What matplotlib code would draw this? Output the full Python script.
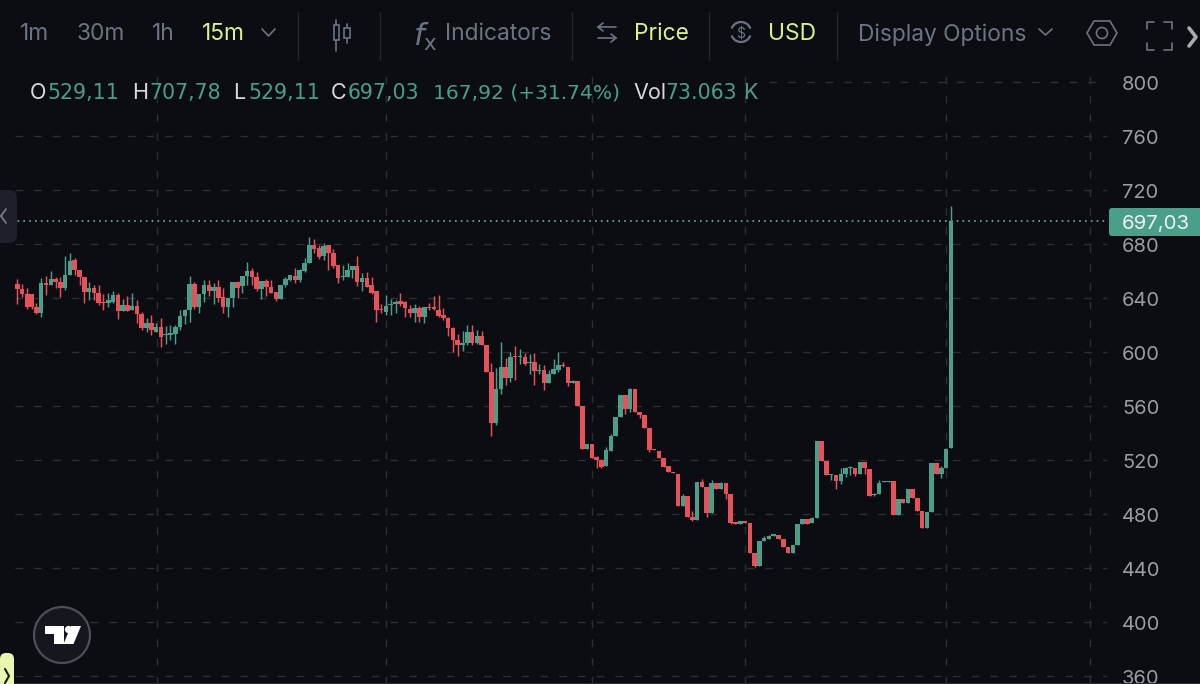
import matplotlib
matplotlib.use("Agg")
import matplotlib.pyplot as plt
from matplotlib.patches import Circle, FancyBboxPatch, Polygon, Rectangle, Arc
from matplotlib.transforms import ScaledTranslation

opens = [650.1,646.7,643.0,643.0,633.6,629.2,650.9,649.4,653.9,651.9,647.2,656.8,668.2,660.8,655.8,644.7,647.2,643.5,636.6,636.1,
637.3,642.2,630.1,634.8,631.1,634.1,628.2,617.6,621.8,615.1,618.3,612.6,612.9,613.4,618.8,626.9,631.1,650.4,633.1,643.0,
649.7,645.5,648.4,640.5,633.1,639.8,652.1,649.2,656.3,660.0,655.3,646.4,652.9,648.4,644.7,639.0,649.7,653.4,656.3,653.3,
660.2,666.2,679.3,676.8,671.1,679.3,673.1,664.4,655.3,655.8,660.7,663.9,652.1,654.6,649.6,645.2,631.6,629.4,634.6,635.5,
637.5,637.0,631.6,629.1,632.3,626.2,633.6,633.1,631.1,627.4,625.0,617.5,608.9,605.4,606.4,614.8,606.4,611.9,605.4,585.4,
547.2,572.4,588.6,580.5,597.0,596.1,596.6,592.1,592.3,585.9,586.7,577.3,583.7,586.7,590.4,588.6,577.3,578.8,560.3,528.2,
531.9,522.0,520.0,515.6,526.9,538.0,551.6,568.2,557.8,572.4,555.3,553.3,543.5,527.9,526.9,521.2,515.6,511.4,509.6,486.2,
493.3,477.5,475.6,504.0,500.3,481.0,502.7,498.8,503.2,494.8,474.0,472.6,474.6,473.6,451.4,441.5,459.8,461.7,463.9,464.4,
461.2,455.8,451.4,457.0,472.6,476.0,473.1,476.8,534.3,519.2,508.6,508.9,504.7,509.6,513.8,514.3,509.4,518.3,513.3,494.1,
494.6,503.4,503.9,504.2,479.3,491.1,488.4,498.3,492.1,482.5,469.4,481.7,517.5,509.6,514.3,529.11]
highs = [654.1,650.1,647.2,643.0,636.1,654.8,656.3,659.8,655.8,655.3,671.1,673.6,669.4,660.8,655.8,652.1,649.7,649.7,643.0,643.5,
645.5,644.0,639.0,641.5,643.5,638.5,629.9,625.0,627.4,621.3,625.0,619.3,620.0,620.0,631.1,631.6,656.3,652.1,643.0,653.4,
653.4,650.9,653.4,647.2,639.8,652.1,652.9,656.3,666.7,662.2,659.5,652.9,653.9,653.4,644.7,649.7,655.3,656.8,662.5,661.2,
669.4,685.0,683.5,679.3,680.5,679.3,676.1,664.4,664.4,665.7,663.7,671.4,658.3,659.5,655.8,645.2,635.6,642.2,639.0,638.5,
644.0,637.5,634.8,635.6,634.0,633.6,636.5,641.5,642.0,632.3,625.7,618.8,613.3,615.8,620.3,620.3,616.3,615.8,605.4,591.6,
587.9,607.6,595.3,600.2,604.7,602.0,599.5,598.5,599.5,591.1,590.4,586.7,594.6,600.2,592.8,588.6,579.3,578.8,560.3,531.9,
531.9,523.0,520.5,529.4,539.3,551.6,568.2,568.2,573.1,572.4,555.3,553.3,543.5,527.9,526.9,521.2,515.6,511.4,509.6,494.8,
493.3,482.5,504.0,505.9,500.3,505.2,502.7,504.0,503.2,494.8,474.0,474.6,474.6,473.6,451.4,459.8,464.0,464.2,465.4,464.4,
461.2,455.8,457.0,472.6,476.0,476.0,478.0,534.3,534.3,519.2,509.6,508.9,513.8,514.6,515.8,514.3,518.3,518.3,513.3,495.3,
505.2,504.2,504.4,504.2,491.1,491.1,498.3,498.3,492.1,482.5,481.7,517.5,517.5,515.5,529.1,707.78]
lows = [635.6,640.5,631.6,631.6,628.2,625.7,642.2,649.4,647.2,641.0,646.0,656.8,657.1,649.7,636.6,638.5,638.5,634.8,631.1,633.1,
636.1,624.2,630.1,630.1,631.1,621.3,616.3,615.1,612.6,615.1,603.5,606.0,608.9,606.0,616.3,620.8,622.5,631.6,629.2,637.3,
641.5,635.6,637.3,628.7,625.7,633.1,639.8,644.0,649.7,649.7,645.5,639.0,641.5,644.0,638.0,639.0,648.4,652.9,651.4,652.1,
659.5,665.7,673.6,668.6,668.2,660.7,662.0,650.9,653.3,655.8,654.6,648.9,645.4,647.9,643.0,622.5,628.6,627.4,627.4,629.1,
634.0,625.7,625.7,622.0,622.5,621.2,631.1,631.1,626.2,623.7,611.9,600.3,597.0,601.0,605.2,605.2,605.9,604.9,585.4,537.8,
545.9,568.9,575.6,578.0,579.3,591.1,590.4,583.7,575.6,583.7,571.9,577.3,583.7,585.4,588.9,574.8,576.8,560.3,528.2,528.2,
521.2,514.3,513.8,515.6,526.9,538.0,551.6,554.1,555.8,555.3,550.9,543.5,526.2,527.2,521.2,515.1,511.4,510.6,486.2,486.2,
477.5,475.1,475.6,499.8,478.0,480.5,498.8,498.8,490.9,472.6,472.6,472.6,473.6,451.4,441.0,441.5,459.8,461.2,463.7,461.2,
455.8,450.9,451.4,457.0,472.6,472.6,473.1,476.8,519.2,508.9,505.2,498.3,502.2,507.7,508.9,508.1,509.4,509.6,493.3,493.3,
494.6,503.4,503.9,479.3,479.3,488.4,488.4,492.1,482.5,469.4,469.4,481.7,509.4,506.4,514.3,529.11]
closes = [646.4,643.0,633.1,633.1,629.2,650.9,649.4,653.9,651.9,647.7,656.8,667.7,660.8,655.8,644.7,647.2,643.5,636.1,636.1,638.5,
642.2,630.1,634.8,630.1,634.1,628.2,617.6,621.8,616.3,618.3,611.4,613.4,613.8,618.8,626.9,631.1,650.4,633.1,643.0,649.7,
645.5,648.4,639.8,633.1,639.8,652.1,647.2,656.3,660.0,655.3,646.4,652.9,648.4,644.0,639.0,649.7,653.9,656.8,653.4,660.7,
666.2,679.3,676.1,670.6,678.5,673.1,663.7,654.6,656.3,660.7,663.7,652.1,654.6,648.4,644.0,631.1,631.1,634.3,635.5,637.3,
635.5,632.3,629.1,632.3,626.2,633.6,632.3,631.6,626.7,625.0,617.5,608.9,605.2,606.4,614.8,606.4,611.9,605.4,585.4,547.7,
572.4,588.6,580.5,596.6,596.1,597.0,590.9,592.8,585.9,586.7,577.3,583.7,587.2,590.4,589.6,577.3,578.8,560.3,528.2,531.9,
521.2,520.0,515.1,527.4,538.0,551.6,568.2,557.8,572.4,555.3,553.3,543.5,527.4,527.2,521.2,515.1,511.4,510.6,486.2,493.3,
477.5,475.6,504.0,500.3,480.5,502.7,498.8,503.2,494.8,473.6,472.6,474.6,473.6,451.4,441.5,459.8,462.5,463.7,465.0,461.2,
455.8,450.9,457.0,472.6,476.0,472.6,476.8,534.3,519.2,508.9,509.4,504.7,509.6,514.0,514.6,509.4,518.3,513.8,493.3,494.8,
503.2,504.2,504.4,479.3,491.1,488.4,498.3,492.1,482.5,469.4,481.7,517.5,509.4,514.3,528.1,697.03]

price_ticks = [360,400,440,480,520,560,600,640,680,720,760,800]
time_grid = [29.2,77.0,120.0,152.0,194.0,224.0]
last_price = 697.03
last_label = "697,03"

BG = "#0c0d13"
GREEN = "#4a9f8b"
RED = "#e7515a"
GRID = "#2b2e36"
MUTED = "#6c7482"
YEL = "#d8f28f"
WHITE = "#d8d9dc"
FONT = "Inter"
plt.rcParams["font.family"] = [FONT, "DejaVu Sans"]

fig = plt.figure(figsize=(12, 6.84), dpi=100, facecolor=BG)
ax = fig.add_axes([0, 0, 1107/1200, 1], facecolor=BG)
ax.set_xlim(-3.61, 227.6)
ax.set_ylim(354.1, 860.7)
for s in ax.spines.values():
    s.set_visible(False)
ax.yaxis.tick_right()
ax.set_yticks(price_ticks)
ax.set_yticklabels([str(p) for p in price_ticks], fontsize=14.4, color="#9b9da4")
ax.tick_params(axis="y", length=0, pad=10.8)
for lab in ax.get_yticklabels():
    lab.set_transform(lab.get_transform() + ScaledTranslation(0, -1/100, fig.dpi_scale_trans))
ax.set_xticks([])
ax.set_axisbelow(True)
ax.hlines(price_ticks[:-1], -0.5, 227.6, color=GRID, lw=1, linestyles=(0, (5.5, 8)), zorder=1)
ax.hlines(price_ticks[-1], 157, 227.6, color=GRID, lw=1, linestyles=(0, (5.5, 8)), zorder=1)
ax.vlines(time_grid, 354.1, 812, color=GRID, lw=1, linestyles=(0, (5.5, 8)), zorder=1)

n = range(len(closes))
for i in n:
    c = GREEN if closes[i] >= opens[i] else RED
    ax.vlines(i, lows[i], highs[i], color=c, lw=1.05, zorder=3)
    h = abs(closes[i] - opens[i])
    ax.bar(i, max(h, 0.8), bottom=min(opens[i], closes[i]), width=0.95, color=c, lw=0, zorder=3)
ax.axhline(last_price, color="#6fb5a3", lw=1.2, ls=(0, (1, 2.5)), zorder=2)

ov = fig.add_axes([0, 0, 1, 1], facecolor="none")
ov.set_xlim(0, 1200)
ov.set_ylim(684, 0)
ov.axis("off")

def T(x, y, s, c, size, ha="left", fam=None):
    ov.text(x, y, s, color=c, fontsize=size, ha=ha, va="center_baseline", family=fam or [FONT, "DejaVu Sans"])

def L(xs, ys, c=MUTED, lw=1.2):
    ov.plot(xs, ys, color=c, lw=lw, solid_capstyle="round", solid_joinstyle="round")

# toolbar
TB = 16.4
T(20, 32, "1m", MUTED, TB)
T(77, 32, "30m", MUTED, TB)
T(152, 32, "1h", MUTED, TB)
T(202, 32, "15m", YEL, TB)
L([262, 268.5, 275], [29, 36, 29])
for x in (298, 380, 572, 709, 837):
    L([x, x], [12, 60], "#22252c", 1)
# candle icon
L([336, 336], [20, 51])
L([347, 347], [24, 43])
ov.add_patch(Rectangle((344, 28), 5.5, 10, fc=BG, ec=MUTED, lw=1.2, zorder=3))
ov.add_patch(Rectangle((333.5, 25), 5.5, 15, fc=BG, ec=MUTED, lw=1.2, zorder=3))
T(413, 33, r"$f_{\mathrm{x}}$", MUTED, 22)
T(445, 32, "Indicators", MUTED, TB)
# swap icon
L([598, 616], [27, 27]); L([598, 603], [27, 23]); L([598, 603], [27, 31])
L([598, 616], [38, 38]); L([616, 611], [38, 34]); L([616, 611], [38, 42])
T(634, 32, "Price", YEL, TB)
ov.add_patch(Arc((741, 32), 20, 20, theta1=200, theta2=340, color=MUTED, lw=1.6))
ov.add_patch(Arc((741, 32), 20, 20, theta1=20, theta2=160, color=MUTED, lw=1.6))
T(741, 32, "$", MUTED, 10, ha="center")
T(768, 32, "USD", YEL, TB)
T(858, 32, "Display Options", MUTED, TB)
L([1039, 1045.5, 1052], [29, 35, 29])
ov.add_patch(Polygon([(1087, 33), (1094, 21), (1110, 21), (1117, 33), (1110, 45), (1094, 45)], fc="none", ec=MUTED, lw=1.2))
ov.add_patch(Circle((1102, 33), 5.5, fc="none", ec=MUTED, lw=1.2))
for xs, ys in (([1147, 1147, 1154], [29, 22, 22]), ([1164, 1172, 1172], [22, 22, 29]),
               ([1147, 1147, 1154], [43, 50, 50]), ([1164, 1172, 1172], [50, 50, 43])):
    L(xs, ys)
L([1189, 1196, 1189], [28, 37, 46], "#a9abb2", 2.6)

# legend row
LG = 15.5
NUM = ["DejaVu Sans"]
for x, s, c, sz, fam in [(30, "O", WHITE, LG, None), (47, "529,11", GREEN, 14.8, NUM), (132, "H", WHITE, LG, None), (149, "707,78", GREEN, 14.8, NUM),
                (233, "L", WHITE, LG, None), (248, "529,11", GREEN, 14.8, NUM), (331, "C", WHITE, LG, None), (348, "697,03", GREEN, 14.8, NUM),
                (433, "167,92 (+31.74%)", GREEN, 14.6, NUM), (633, "Vol", WHITE, LG, None), (665, "73.063", GREEN, 14.8, NUM), (743, "K", GREEN, LG, None)]:
    T(x, 91, s, c, sz, fam=fam)

# last price tag
ov.add_patch(FancyBboxPatch((1109, 208), 95, 28, boxstyle="round,pad=0,rounding_size=3", fc=GREEN, ec="none"))
T(1122, 222, last_label, "#f2f4f4", 14.6)

# left handle
ov.add_patch(FancyBboxPatch((-20, 190), 37, 53, boxstyle="round,pad=0,rounding_size=8", fc="#1d2028", ec="none"))
L([6, 1], [209, 216], "#7b808a", 1.2); L([1, 6], [216, 223], "#7b808a", 1.2)

# logo
ov.add_patch(Circle((62, 635), 28, fc="#15161e", ec="#4d4f58", lw=1.6))
ov.add_patch(Polygon([(45, 626), (64, 626), (64, 644), (53.5, 644), (53.5, 633.5), (45, 633.5)], fc="white", ec="none"))
ov.add_patch(Circle((68.5, 629.5), 3.6, fc="white", ec="none"))
ov.add_patch(Polygon([(81, 626), (71, 626), (63.5, 644), (73.5, 644)], fc="white", ec="none"))

# bottom tab
ov.add_patch(FancyBboxPatch((0, 653), 14, 50, boxstyle="round,pad=0,rounding_size=6", fc="#e8f7b0", ec="none"))
L([5, 9, 5], [669, 676, 683], "#1a1a1a", 1.5)
ov.add_patch(Rectangle((14, 682.5), 1186, 2, fc="#2a2c33", ec="none"))

fig.savefig("out.png", dpi=100, facecolor=BG)
